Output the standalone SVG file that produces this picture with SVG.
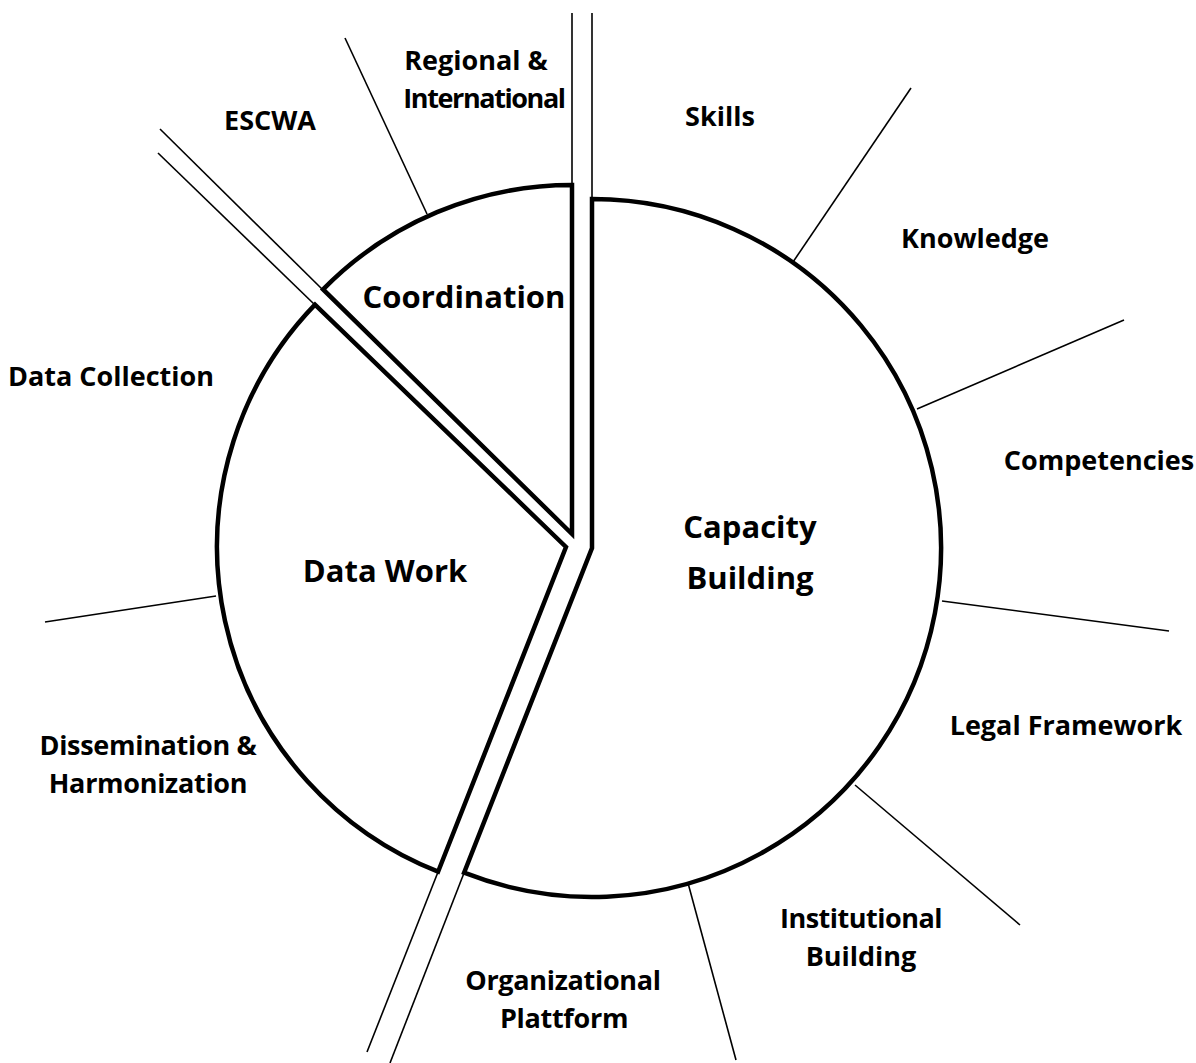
<svg xmlns="http://www.w3.org/2000/svg" width="1196" height="1063" viewBox="0 0 1196 1063">
<style>
.slice{fill:#fff;stroke:#000;stroke-width:4.5;stroke-linejoin:miter}
.thin{stroke:#000;stroke-width:1.6;fill:none}
.lbl{font-family:"Open Sans",Lato,"Liberation Sans",sans-serif;font-weight:bold;font-size:27px;fill:#000;text-anchor:middle}
.big{font-size:31px}
</style>
<rect width="1196" height="1063" fill="#fff"/>
<g id="connectors">
<line class="thin" x1="572" y1="13" x2="572" y2="186"/>
<line class="thin" x1="592" y1="13" x2="592" y2="200"/>
<line class="thin" x1="160" y1="129" x2="323" y2="290"/>
<line class="thin" x1="158" y1="153" x2="315" y2="305"/>
<line class="thin" x1="438" y1="872" x2="367" y2="1052"/>
<line class="thin" x1="464" y1="873" x2="390" y2="1063"/>
<line class="thin" x1="345" y1="38" x2="427" y2="214"/>
<line class="thin" x1="911" y1="88" x2="793" y2="262"/>
<line class="thin" x1="1124" y1="320" x2="917" y2="409"/>
<line class="thin" x1="1169" y1="631" x2="942" y2="601"/>
<line class="thin" x1="1020" y1="925" x2="855" y2="785"/>
<line class="thin" x1="736" y1="1060" x2="688" y2="883"/>
<line class="thin" x1="45" y1="622" x2="216" y2="596"/>
</g>
<g id="capacity-building">
<path class="slice" d="M592,548 L592,199 A349,349 0 1 1 464.1,872.7 Z"/>
<text class="lbl big" x="750" y="538">Capacity</text>
<text class="lbl big" x="750" y="589">Building</text>
</g>
<g id="coordination">
<path class="slice" d="M572,534 L323.1,289.4 A349,349 0 0 1 572,185 Z"/>
<text class="lbl big" x="464" y="308">Coordination</text>
</g>
<g id="data-work">
<path class="slice" d="M566,547 L438.1,871.7 A349,349 0 0 1 315,304.6 Z"/>
<text class="lbl big" x="385" y="582">Data Work</text>
</g>
<g id="labels">
<text class="lbl" x="476" y="70">Regional &amp;</text>
<text class="lbl" x="484" y="108" letter-spacing="-1.4">International</text>
<text class="lbl" x="270" y="130">ESCWA</text>
<text class="lbl" x="720" y="126">Skills</text>
<text class="lbl" x="975" y="248">Knowledge</text>
<text class="lbl" x="111" y="386">Data Collection</text>
<text class="lbl" x="1099" y="470">Competencies</text>
<text class="lbl" x="1066" y="735">Legal Framework</text>
<text class="lbl" x="148" y="755" letter-spacing="-0.3">Dissemination &amp;</text>
<text class="lbl" x="148" y="793" letter-spacing="-0.3">Harmonization</text>
<text class="lbl" x="861" y="928" letter-spacing="-0.5">Institutional</text>
<text class="lbl" x="861" y="966">Building</text>
<text class="lbl" x="563" y="990" letter-spacing="-0.3">Organizational</text>
<text class="lbl" x="564" y="1028" letter-spacing="-0.3">Plattform</text>
</g>
</svg>
